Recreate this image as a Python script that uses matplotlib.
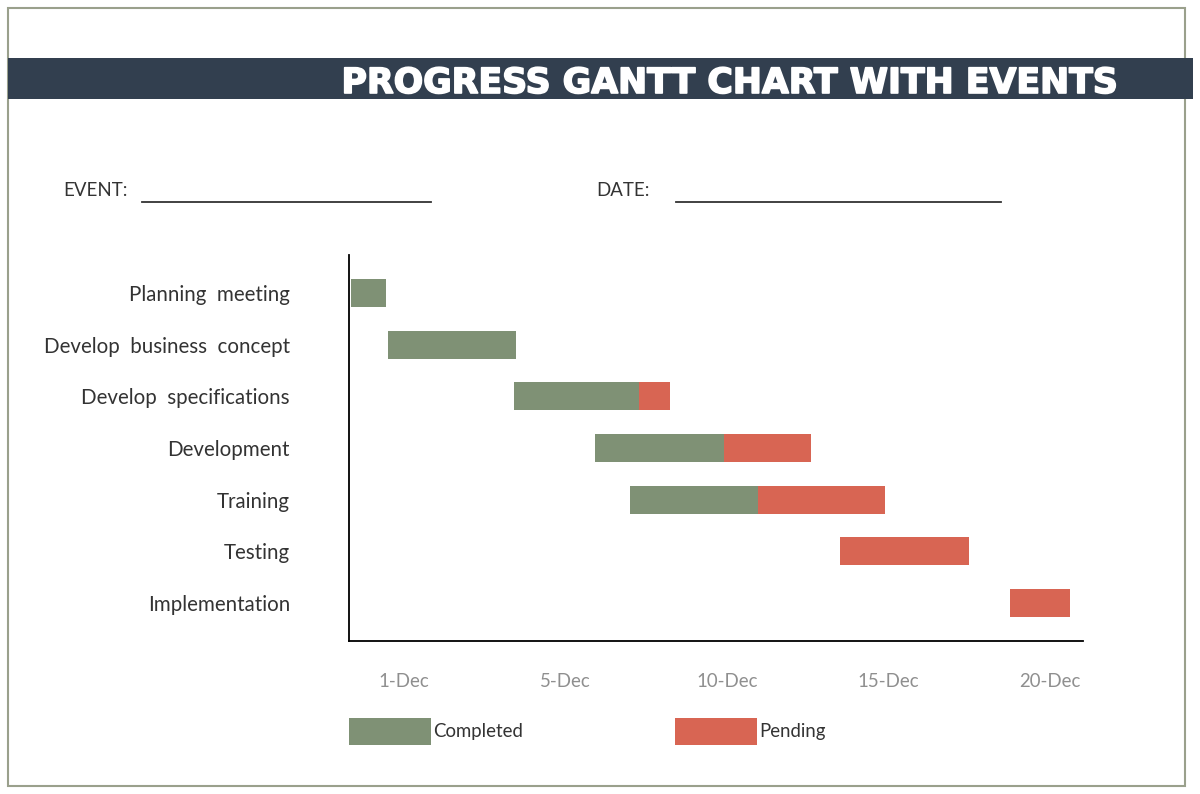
import matplotlib
matplotlib.use('Agg')
import matplotlib.pyplot as plt
import matplotlib.patheffects as pe
from matplotlib.patches import Rectangle

tasks = ['Planning  meeting', 'Develop  business  concept', 'Develop  specifications',
         'Development', 'Training', 'Testing', 'Implementation']
start = [-0.65, 0.5, 4.4, 6.9, 8.0, 14.5, 19.75]
completed = [1.08, 3.96, 3.87, 4.0, 3.96, 0.0, 0.0]
pending = [0.0, 0.0, 0.96, 2.69, 3.93, 4.0, 1.86]
tick_pos = [1, 6, 11, 16, 21]
tick_labels = ['1-Dec', '5-Dec', '10-Dec', '15-Dec', '20-Dec']

GREEN = '#7f9175'
RED = '#d86553'
NAVY = '#323f4f'

W, H = 1200, 794
fig = plt.figure(figsize=(12, 7.94), dpi=100)
plt.rcParams['font.family'] = ['Lato', 'DejaVu Sans']


def fx(px):
    return px / W


def fy(py):
    return 1 - py / H


# outer frame and banner
fig.patches.append(Rectangle((fx(8), fy(786)), fx(1185) - fx(8), fy(8) - fy(786),
                             transform=fig.transFigure, fill=False,
                             edgecolor='#9aa08c', linewidth=1.5))
fig.patches.append(Rectangle((fx(8), fy(99)), fx(1193) - fx(8), fy(58) - fy(99),
                             transform=fig.transFigure, facecolor=NAVY, edgecolor='none'))
title = fig.text(fx(1119), fy(93), 'PROGRESS GANTT CHART WITH EVENTS', color='white',
                 fontsize=25, fontweight='bold', family=['DejaVu Sans'],
                 ha='right', va='baseline')
title.set_path_effects([pe.withStroke(linewidth=1.2, foreground='white')])

# event / date fields
fig.text(fx(63), fy(190), 'EVENT:', fontsize=13.4, color='#333333', va='center')
fig.text(fx(596), fy(190), 'DATE:', fontsize=13.4, color='#333333', va='center')
fig.add_artist(plt.Line2D([fx(142), fx(431)], [fy(202), fy(202)], color='#333333', lw=1.3))
fig.add_artist(plt.Line2D([fx(676), fx(1001)], [fy(202), fy(202)], color='#333333', lw=1.3))

# gantt axes
ax = fig.add_axes([fx(349), fy(641), fx(1083) - fx(349), fy(255) - fy(641)])
y = list(range(len(tasks)))
ax.barh(y, completed, left=start, height=0.54, color=GREEN, edgecolor='none')
left2 = [s + c for s, c in zip(start, completed)]
ax.barh(y, pending, left=left2, height=0.54, color=RED, edgecolor='none')

ax.set_xlim(-0.7, 22.02)
ax.set_ylim(6.735, -0.735)
ax.set_yticks(y)
ax.set_yticklabels(tasks, fontsize=14.8, color='#333333')
ax.set_xticks(tick_pos)
ax.set_xticklabels(tick_labels, fontsize=13.4, color='#8f8f8f')
ax.tick_params(axis='both', length=0)
ax.tick_params(axis='y', pad=42.5)
ax.tick_params(axis='x', pad=23)
for side in ['top', 'right']:
    ax.spines[side].set_visible(False)
for side in ['left', 'bottom']:
    ax.spines[side].set_color('black')
    ax.spines[side].set_linewidth(1.3)

# legend
fig.patches.append(Rectangle((fx(349), fy(745)), fx(82), fy(718) - fy(745),
                             transform=fig.transFigure, facecolor=GREEN, edgecolor='none'))
fig.patches.append(Rectangle((fx(675), fy(745)), fx(82), fy(718) - fy(745),
                             transform=fig.transFigure, facecolor=RED, edgecolor='none'))
fig.text(fx(433), fy(732), 'Completed', fontsize=13.4, color='#333333', va='center')
fig.text(fx(759), fy(732), 'Pending', fontsize=13.4, color='#333333', va='center')

fig.savefig('out.png', dpi=100)
